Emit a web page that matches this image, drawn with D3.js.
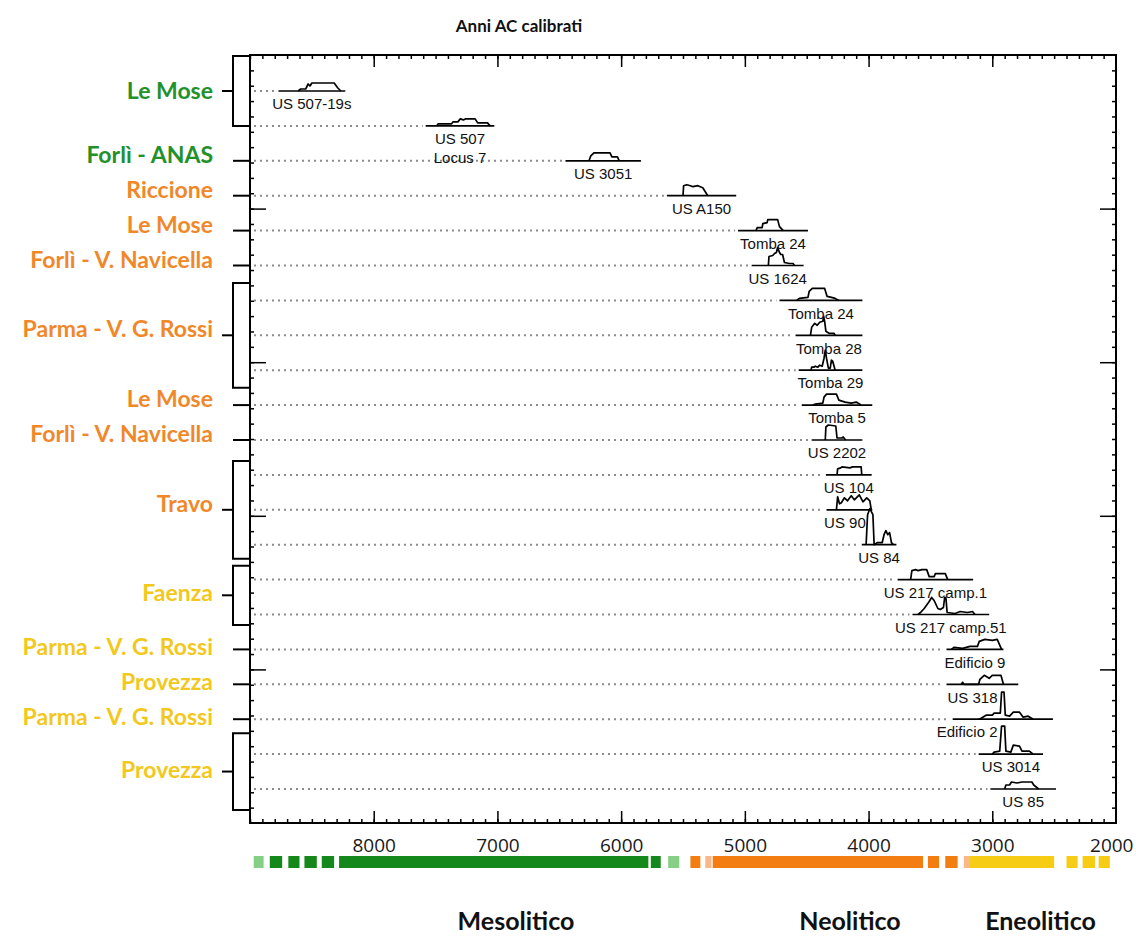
<!DOCTYPE html>
<html><head><meta charset="utf-8">
<script src="https://cdn.jsdelivr.net/npm/d3@7"></script>
<style>
html,body{margin:0;padding:0;background:#fff;}
svg{display:block;}
</style></head>
<body>
<svg id="chart" width="1136" height="944"></svg>
<script>
// ---------------- DATA ----------------
const title = "Anni AC calibrati";
const xTickValues = [8000, 7000, 6000, 5000, 4000, 3000, 2000];

const rowLabels = [
  ["US 507-19s"], ["US 507", "Locus 7"], ["US 3051"], ["US A150"], ["Tomba 24"],
  ["US 1624"], ["Tomba 24"], ["Tomba 28"], ["Tomba 29"], ["Tomba 5"], ["US 2202"],
  ["US 104"], ["US 90"], ["US 84"], ["US 217 camp.1"], ["US 217 camp.51"],
  ["Edificio 9"], ["US 318"], ["Edificio 2"], ["US 3014"], ["US 85"]
];
// calibrated range (years BC): start (older) and end (younger)
const rangeStart = [8770, 7580, 6450, 5630, 5055, 4945, 4720, 4590, 4565, 4540, 4460, 4345, 4340, 4055, 3765, 3645, 3370, 3370, 3320, 3110, 3015];
const rangeEnd   = [8230, 7025, 5840, 5070, 4490, 4525, 4050, 4050, 4050, 3970, 4050, 3975, 3970, 3775, 3155, 3025, 2910, 2790, 2510, 2590, 2485];

// probability distributions: [year BC, relative probability]
const distributions = [
  [[8610,0],[8590,2],[8550,2],[8530,7],[8515,5],[8500,8],[8320,8],[8290,3],[8265,0]],
  [[7490,0],[7480,2],[7370,2],[7360,4],[7320,4],[7300,7],[7275,6],[7260,7],[7180,7],[7160,3],[7080,3],[7060,0]],
  [[6260,0],[6245,5],[6220,8],[6090,8],[6075,4],[6030,4],[6015,0]],
  [[5500,0],[5495,10],[5470,11],[5440,10],[5420,9],[5380,10],[5340,8],[5325,5],[5300,0]],
  [[4910,0],[4900,3],[4860,3],[4855,7],[4820,8],[4815,11],[4735,11],[4720,4],[4690,0]],
  [[4810,0],[4805,9],[4775,10],[4760,12],[4745,13],[4735,18],[4720,13],[4710,11],[4695,11],[4680,3],[4640,2],[4610,2],[4600,0]],
  [[4580,0],[4560,2],[4490,3],[4480,9],[4455,12],[4355,12],[4335,4],[4300,3],[4270,2],[4240,0]],
  [[4470,0],[4460,8],[4435,12],[4415,10],[4395,13],[4370,14],[4363,19],[4355,14],[4345,4],[4320,2],[4280,2],[4270,0]],
  [[4465,0],[4460,3],[4440,3],[4430,4],[4410,3],[4395,5],[4375,4],[4360,12],[4350,20],[4340,12],[4325,2],[4310,2],[4300,10],[4290,9],[4270,0]],
  [[4450,0],[4430,1],[4370,2],[4360,8],[4340,11],[4260,11],[4240,5],[4190,3],[4140,2],[4100,3],[4060,0]],
  [[4350,0],[4345,13],[4325,15],[4265,14],[4255,2],[4215,2],[4205,3],[4185,0]],
  [[4255,0],[4250,6],[4225,7],[4215,8],[4150,7],[4130,8],[4060,8],[4055,0]],
  [[4260,0],[4250,13],[4235,6],[4220,7],[4195,12],[4170,9],[4140,14],[4115,10],[4075,15],[4045,8],[4015,12],[3990,9],[3978,0]],
  [[4020,0],[4008,30],[3990,36],[3965,30],[3955,0],[3930,2],[3890,2],[3875,10],[3860,14],[3845,10],[3830,12],[3815,2],[3800,0]],
  [[3660,0],[3650,9],[3620,10],[3600,9],[3570,10],[3530,10],[3510,3],[3470,3],[3460,6],[3380,6],[3360,0]],
  [[3600,0],[3580,2],[3550,6],[3510,13],[3490,17],[3470,14],[3440,6],[3420,5],[3395,7],[3385,17],[3375,17],[3365,2],[3300,1],[3260,3],[3200,2],[3160,3],[3140,0]],
  [[3330,0],[3310,2],[3240,1],[3180,3],[3120,3],[3105,8],[3060,10],[3000,9],[2960,10],[2925,0]],
  [[3250,0],[3240,2],[3230,0],[3110,0],[3100,5],[3065,9],[3025,6],[3000,9],[2930,9],[2910,0]],
  [[3110,0],[3090,1],[3050,4],[3000,4],[2985,6],[2935,6],[2925,27],[2905,27],[2895,4],[2860,3],[2830,7],[2780,7],[2750,2],[2710,3],[2670,0]],
  [[3000,0],[2985,2],[2940,3],[2925,28],[2900,28],[2890,3],[2850,2],[2830,9],[2780,8],[2760,3],[2700,3],[2670,0]],
  [[2900,0],[2890,4],[2860,4],[2845,7],[2800,6],[2760,7],[2680,7],[2665,4],[2625,0]]
];

// sites (groups of rows), in row units
const siteNames = ["Le Mose","Forlì - ANAS","Riccione","Le Mose","Forlì - V. Navicella","Parma - V. G. Rossi","Le Mose","Forlì - V. Navicella","Travo","Faenza","Parma - V. G. Rossi","Provezza","Parma - V. G. Rossi","Provezza"];
const sitePhase = ["meso","meso","neo","neo","neo","neo","neo","neo","neo","eneo","eneo","eneo","eneo","eneo"];
const siteFrom  = [-1, 2, 3, 4, 5, 5.5, 9, 10, 10.6, 13.6, 16, 17, 18, 18.4];
const siteTo    = [ 1, 2, 3, 4, 5, 8.5, 9, 10, 13.4, 15.3, 16, 17, 18, 20.6];

// cultural phases bar
const phaseStart = [8970, 8840, 8690, 8560, 8420, 8280, 5760, 5620, 5440, 5320, 5260, 3520, 3380, 3230, 3180, 2400, 2270, 2140];
const phaseEnd   = [8890, 8740, 8600, 8460, 8320, 5780, 5680, 5530, 5360, 5270, 3560, 3430, 3280, 3180, 2500, 2310, 2170, 2050];
const phaseKind  = ["meso-l","meso","meso","meso","meso","meso","meso","meso-l","neo","neo-l","neo","neo","neo","neo-l","eneo","eneo","eneo","eneo"];
const phaseNames = ["Mesolitico", "Neolitico", "Eneolitico"];
const phaseNameYear = [6850, 4150, 2610];

// ---------------- STYLE ----------------
const colors = {
  "meso": "#14881a", "meso-l": "#86cf86",
  "neo": "#f47d12", "neo-l": "#f8b88a",
  "eneo": "#f7cc14"
};
const textColors = { meso: "#23912a", neo: "#f0882a", eneo: "#f2c81c" };

const svg = d3.select("#chart");
const pLeft = 250, pRight = 1116, pTop = 55, pBottom = 823;

const x = d3.scaleLinear().domain([9000, 2000]).range([pLeft, pRight]);
const rowY = d3.scaleLinear().domain([0, 20]).range([91, 789]);
const prob = d3.scaleLinear().domain([0, 36]).range([0, 36]);
const frameY = d3.scaleLinear().domain([0, 50]).range([pTop, pBottom]);

// title
svg.append("text").attr("x", 519).attr("y", 26).attr("dy", "0.35em")
  .attr("text-anchor", "middle").attr("font-family", "Lato, sans-serif")
  .attr("font-weight", 700).attr("font-size", 17).attr("fill", "#111").text(title);

// dotted guide lines
const rows = d3.range(rowLabels.length);
svg.append("g").selectAll("line").data(rows).join("line")
  .attr("x1", pLeft + 4).attr("x2", i => x(rangeStart[i]) - 3)
  .attr("y1", i => rowY(i)).attr("y2", i => rowY(i))
  .attr("stroke", "#8c8c8c").attr("stroke-width", 2).attr("stroke-dasharray", "2,4");

// baselines
svg.append("g").selectAll("line").data(rows).join("line")
  .attr("x1", i => x(rangeStart[i])).attr("x2", i => x(rangeEnd[i]))
  .attr("y1", i => rowY(i)).attr("y2", i => rowY(i))
  .attr("stroke", "#000").attr("stroke-width", 1.7);

// distributions
const line = d3.line().x(d => x(d[0]));
svg.append("g").selectAll("path").data(rows).join("path")
  .attr("d", i => line.y(d => rowY(i) - prob(d[1]))(distributions[i]))
  .attr("fill", "none").attr("stroke", "#000").attr("stroke-width", 1.7)
  .attr("stroke-linejoin", "round");

// row labels (shifted left of a tall peak rising from the row below)
const lbl = svg.append("g").attr("font-family", "'Liberation Sans', Arial, sans-serif")
  .attr("font-size", 15).attr("fill", "#111");
rows.forEach(i => {
  const cx = (x(rangeStart[i]) + x(rangeEnd[i])) / 2;
  rowLabels[i].forEach((t, k) => {
    const el = lbl.append("text").attr("x", cx).attr("y", rowY(i) + 13 + k * 19)
      .attr("dy", "0.35em").attr("text-anchor", "middle").text(t);
    if (i + 1 < rows.length) {
      const peak = distributions[i + 1].reduce((a, b) => b[1] > a[1] ? b : a);
      const w = el.node().getComputedTextLength();
      const px = x(peak[0]);
      if (peak[1] >= 25 && px > cx - w / 2 - 2 && px < cx + w / 2 + 2) {
        el.attr("x", px - 4).attr("text-anchor", "end");
      }
    }
  });
});

// frame
svg.append("rect").attr("x", pLeft).attr("y", pTop).attr("width", pRight - pLeft).attr("height", pBottom - pTop)
  .attr("fill", "none").attr("stroke", "#000").attr("stroke-width", 2);

// horizontal ticks (inside) top and bottom
const minorX = d3.range(9000, 2000, -100);
const majorX = d3.range(8000, 2000, -1000);
function noLabels(g) { g.selectAll("text").remove(); g.select(".domain").remove(); g.selectAll("line").attr("stroke-width", 1.5); }
svg.append("g").attr("transform", `translate(0,${pTop})`)
  .call(d3.axisBottom(x).tickValues(minorX).tickSize(4)).call(noLabels);
svg.append("g").attr("transform", `translate(0,${pTop})`)
  .call(d3.axisBottom(x).tickValues(majorX).tickSize(12)).call(noLabels);
svg.append("g").attr("transform", `translate(0,${pBottom})`)
  .call(d3.axisTop(x).tickValues(minorX).tickSize(4)).call(noLabels);
svg.append("g").attr("transform", `translate(0,${pBottom})`)
  .call(d3.axisTop(x).tickValues(majorX).tickSize(12)).call(noLabels);

// tick labels
const xAxis = svg.append("g").attr("transform", `translate(0,${pBottom})`)
  .call(d3.axisBottom(x).tickValues(xTickValues).tickSize(0).tickPadding(16).tickFormat(d3.format("d")));
xAxis.select(".domain").remove();
xAxis.selectAll("text").attr("font-family", "'Open Sans', sans-serif").attr("font-size", 19).attr("fill", "#1a1a1a")
  .each(function(d) {
    const w = this.getComputedTextLength();
    const over = x(d) + w / 2 - 1133;
    if (over > 0) d3.select(this).attr("dx", -over);
  });

// vertical ticks (inside) left and right
const minorY = d3.range(1, 50);
const majorY = [10, 20, 30, 40];
svg.append("g").attr("transform", `translate(${pLeft},0)`)
  .call(d3.axisRight(frameY).tickValues(minorY).tickSize(4)).call(noLabels);
svg.append("g").attr("transform", `translate(${pLeft},0)`)
  .call(d3.axisRight(frameY).tickValues(majorY).tickSize(16)).call(noLabels);
svg.append("g").attr("transform", `translate(${pRight},0)`)
  .call(d3.axisLeft(frameY).tickValues(minorY).tickSize(4)).call(noLabels);
svg.append("g").attr("transform", `translate(${pRight},0)`)
  .call(d3.axisLeft(frameY).tickValues(majorY).tickSize(16)).call(noLabels);

// site brackets and labels
const sites = svg.append("g");
siteNames.forEach((name, i) => {
  const y0 = rowY(siteFrom[i]), y1 = rowY(siteTo[i]), ym = (y0 + y1) / 2;
  if (siteFrom[i] === siteTo[i]) {
    sites.append("line").attr("x1", 233).attr("x2", pLeft).attr("y1", ym).attr("y2", ym)
      .attr("stroke", "#000").attr("stroke-width", 2);
  } else {
    sites.append("path").attr("d", `M${pLeft},${y0}H233V${y1}H${pLeft}`)
      .attr("fill", "none").attr("stroke", "#000").attr("stroke-width", 2);
    sites.append("line").attr("x1", 222).attr("x2", 233).attr("y1", ym).attr("y2", ym)
      .attr("stroke", "#000").attr("stroke-width", 2);
  }
  const nudge = i === 0 ? 0 : (sitePhase[i] === "eneo" ? -2 : -6);
  sites.append("text").attr("x", 213).attr("y", ym + nudge).attr("dy", "0.35em")
    .attr("text-anchor", "end").attr("font-family", "Lato, sans-serif").attr("font-weight", 700)
    .attr("font-size", 23).attr("fill", textColors[sitePhase[i]]).text(name);
});

// phase bar
const pIdx = d3.range(phaseStart.length);
svg.append("g").selectAll("rect").data(pIdx).join("rect")
  .attr("x", i => x(phaseStart[i])).attr("width", i => x(phaseEnd[i]) - x(phaseStart[i]))
  .attr("y", 856).attr("height", 12).attr("fill", i => colors[phaseKind[i]]);

svg.append("g").selectAll("text").data(phaseNames).join("text")
  .attr("x", (d, i) => x(phaseNameYear[i])).attr("y", 921).attr("dy", "0.35em")
  .attr("text-anchor", "middle").attr("font-family", "Lato, sans-serif").attr("font-weight", 700)
  .attr("font-size", 25).attr("fill", "#111").text(d => d);
</script>
</body></html>
